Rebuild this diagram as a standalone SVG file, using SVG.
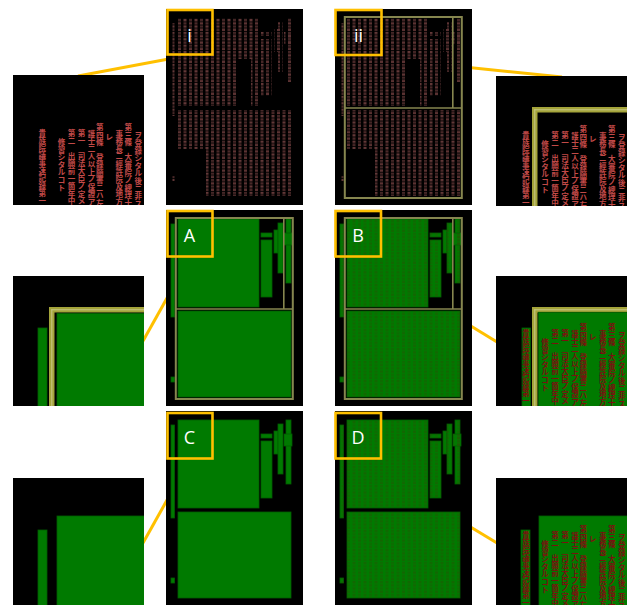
<svg xmlns="http://www.w3.org/2000/svg" xmlns:xlink="http://www.w3.org/1999/xlink" width="631" height="605" viewBox="0 0 631 605">
<style>
.bg{fill:#000}
.conn{stroke:#FFC000;stroke-width:3;fill:none}
.hl{fill:none;stroke:#FFC000;stroke-width:2.6}
.lbl{font-family:"Open Sans","Liberation Sans",sans-serif;font-size:18px;fill:#fff;text-anchor:middle}
.grn{fill:#007a00;stroke:#005e00;stroke-width:0.8}
.gtx{fill:url(#pG)}
.rtx{fill:url(#pR)}
.frm{fill:none;stroke:#86864f;stroke-width:2}
.jp{font-family:"Noto Sans CJK JP","Noto Sans CJK SC",sans-serif;font-size:7.5px;font-weight:700;text-anchor:middle}
.band{fill:#a4a43a}
.bandl{fill:#c8c888}
</style>
<defs>
<pattern id="pR" width="11" height="6.4" patternUnits="userSpaceOnUse">
<rect x="1" y="0.4" width="3" height="2.3" fill="#5e3434"/>
<rect x="6.5" y="0.4" width="3" height="2.3" fill="#4a2828"/>
<rect x="1" y="3.6" width="3" height="2.3" fill="#442626"/>
<rect x="6.5" y="3.6" width="3" height="2.3" fill="#633838"/>
</pattern>
<pattern id="pG" width="11" height="6.4" patternUnits="userSpaceOnUse">
<rect x="1" y="0.4" width="3" height="2.3" fill="#2d4a06" opacity="0.4"/>
<rect x="6.5" y="0.4" width="3" height="2.3" fill="#2d4a06" opacity="0.3"/>
<rect x="1" y="3.6" width="3" height="2.3" fill="#2d4a06" opacity="0.3"/>
<rect x="6.5" y="3.6" width="3" height="2.3" fill="#2d4a06" opacity="0.4"/>
</pattern>
<g id="blk">
<rect x="12" y="9" width="81" height="88"/>
<rect x="12" y="101" width="113" height="86"/>
<rect x="5" y="14" width="3.5" height="93"/>
<rect x="5" y="167" width="3.5" height="5"/>
<rect x="95" y="23" width="11" height="4"/>
<rect x="95" y="30" width="11" height="57"/>
<rect x="108" y="20" width="4" height="23"/>
<rect x="112" y="13" width="5" height="50"/>
<rect x="120" y="9" width="5" height="64"/>
<rect x="118" y="23" width="8" height="12"/>
</g>
<g id="gaps" fill="#000">
<rect x="72" y="50" width="13" height="48"/>
<rect x="12" y="140" width="28" height="48"/>
</g>
<g id="frame">
<rect class="frm" x="9.8" y="8" width="117" height="181"/>
<line x1="9.8" y1="99" x2="126.8" y2="99" stroke="#86864f" stroke-width="1.6"/>
<line x1="117.8" y1="8" x2="117.8" y2="99" stroke="#86864f" stroke-width="1.6"/>
</g>
<g id="jt" class="jp">
<text x="29.7 29.7 29.7 29.7 29.7 29.7 29.7 29.7 29.7 29.7" y="59.6 67.2 74.8 82.4 90 97.6 105.2 112.8 120.4 128">貴族院議事速記録第一</text>
<text x="49 49 49 49 49 49 49" y="68.9 76.5 84.1 91.7 99.3 106.9 114.5">修習シタルコト</text>
<text x="59 59 59 59 59 59 59 59 59 59" y="59.9 67.5 75.1 82.7 90.3 97.9 105.5 113.1 120.7 128.3">第二　出願前一箇年中</text>
<text x="69 69 69 69 69 69 69 69 69 69" y="59.9 67.5 75.1 82.7 90.3 97.9 105.5 113.1 120.7 128.3">第一　司法大臣ノ定メ</text>
<text x="79 79 79 79 79 79 79 79 79 79" y="60.6 68.2 75.8 83.4 91 98.6 106.2 113.8 121.4 129">護士二人以上ノ保證ア</text>
<text x="87.3 87.3 87.3 87.3 87.3 87.3 87.3 87.3 87.3 87.3 87.3" y="53.9 61.5 69.1 76.7 84.3 91.9 99.5 107.1 114.7 122.3 129.9">第四條　登録願書ニハ左</text>
<text x="96.7" y="63.9">レ</text>
<text x="106.7 106.7 106.7 106.7 106.7 106.7 106.7 106.7 106.7 106.7" y="60.6 68.2 75.8 83.4 91 98.6 106.2 113.8 121.4 129">事務長ニ經許院及地方</text>
<text x="115.7 115.7 115.7 115.7 115.7 115.7 115.7 115.7 115.7 115.7 115.7" y="53.9 61.5 69.1 76.7 84.3 91.9 99.5 107.1 114.7 122.3 129.9">第三條　大審院ノ總理士</text>
<text x="125.7 125.7 125.7 125.7 125.7 125.7 125.7 125.7 125.7 125.7" y="62.3 69.9 77.5 85.1 92.7 100.3 107.9 115.5 123.1 130.7">ヲ登録シタル後ニ非ス</text>
</g>
<g id="fband">
<rect class="band" x="36" y="31" width="5.5" height="100"/>
<rect class="band" x="36" y="31" width="100" height="5.5"/>
<rect class="bandl" x="38.3" y="33.3" width="1" height="100"/>
<rect class="bandl" x="38.3" y="33.3" width="100" height="1"/>
</g>
<clipPath id="ic"><rect width="131" height="130"/></clipPath>
</defs>

<g id="connectors">
<line class="conn" x1="78" y1="76" x2="190" y2="55"/>
<line class="conn" x1="358" y1="56" x2="562" y2="77"/>
<line class="conn" x1="190" y1="257" x2="143" y2="341"/>
<line class="conn" x1="358" y1="257" x2="497" y2="342"/>
<line class="conn" x1="190" y1="459" x2="143" y2="543"/>
<line class="conn" x1="358" y1="459" x2="497" y2="543"/>
</g>

<g id="inset-i" transform="translate(13,75)" clip-path="url(#ic)">
<rect class="bg" width="131" height="130"/>
<use href="#jt" fill="#c24a48" transform="translate(-0.5,1)"/>
</g>
<g id="inset-ii" transform="translate(496,76)" clip-path="url(#ic)">
<rect class="bg" width="131" height="130"/>
<use href="#fband"/>
<use href="#jt" fill="#c24a48" transform="translate(0,2)"/>
</g>
<g id="inset-A" transform="translate(13,276)" clip-path="url(#ic)">
<rect class="bg" width="131" height="130"/>
<rect class="grn" x="25" y="52" width="9" height="90"/>
<use href="#fband"/>
<rect class="grn" x="44" y="37.3" width="95" height="100"/>
</g>
<g id="inset-B" transform="translate(496,276)" clip-path="url(#ic)">
<rect class="bg" width="131" height="130"/>
<rect class="grn" x="26" y="52" width="8.5" height="90"/>
<use href="#fband"/>
<rect class="grn" x="42.3" y="36.3" width="95" height="100"/>
<use href="#jt" fill="#7a1010"/>
</g>
<g id="inset-C" transform="translate(13,478)" clip-path="url(#ic)">
<rect class="bg" width="131" height="130"/>
<rect class="grn" x="25" y="52" width="9" height="90"/>
<rect class="grn" x="44" y="38" width="95" height="100"/>
</g>
<g id="inset-D" transform="translate(496,478)" clip-path="url(#ic)">
<rect class="bg" width="131" height="130"/>
<rect class="grn" x="25" y="52" width="9" height="90"/>
<rect class="grn" x="43" y="38" width="95" height="100"/>
<use href="#jt" fill="#7a1010"/>
</g>

<g id="img-i" transform="translate(166,9)">
<rect class="bg" width="137" height="196"/>
<use href="#blk" class="rtx"/>
<use href="#gaps"/>
<rect class="hl" x="1.5" y="1" width="45" height="44.5"/>
<text class="lbl" x="23.5" y="33">i</text>
</g>
<g id="img-ii" transform="translate(335,9)">
<rect class="bg" width="137" height="196"/>
<use href="#blk" class="rtx"/>
<use href="#gaps"/>
<use href="#frame"/>
<rect class="hl" x="0.5" y="1" width="46" height="45"/>
<text class="lbl" x="23.5" y="33">ii</text>
</g>
<g id="img-A" transform="translate(166,210)">
<rect class="bg" width="137" height="196"/>
<use href="#blk" class="grn"/>
<use href="#frame"/>
<rect class="hl" x="1.5" y="1" width="45" height="45.5"/>
<text class="lbl" x="23.5" y="32">A</text>
</g>
<g id="img-B" transform="translate(335,210)">
<rect class="bg" width="137" height="196"/>
<use href="#blk" class="grn"/>
<use href="#blk" class="gtx"/>
<use href="#frame"/>
<rect class="hl" x="0.5" y="1" width="45.5" height="45.5"/>
<text class="lbl" x="23" y="32">B</text>
</g>
<g id="img-C" transform="translate(166,411)">
<rect class="bg" width="137" height="196"/>
<use href="#blk" class="grn"/>
<rect class="hl" x="1.5" y="2" width="45" height="45.5"/>
<text class="lbl" x="23.5" y="33">C</text>
</g>
<g id="img-D" transform="translate(335,411)">
<rect class="bg" width="137" height="196"/>
<use href="#blk" class="grn"/>
<use href="#blk" class="gtx"/>
<rect class="hl" x="0.5" y="2" width="45.5" height="45.5"/>
<text class="lbl" x="23" y="33">D</text>
</g>
</svg>
